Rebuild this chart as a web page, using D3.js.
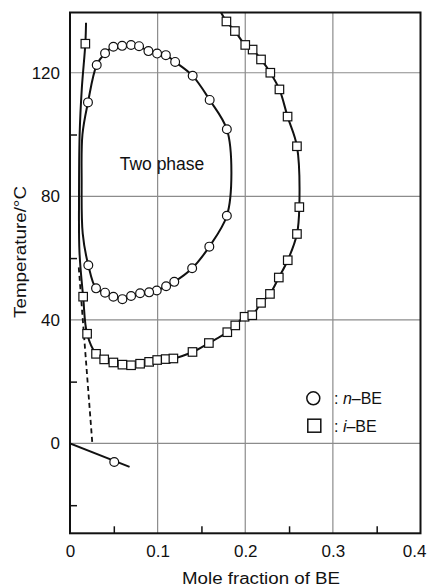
<!DOCTYPE html>
<html>
<head>
<meta charset="utf-8">
<script src="https://cdn.jsdelivr.net/npm/d3@7/dist/d3.min.js"></script>
<style>
  html, body { margin: 0; padding: 0; background: #fff; }
  svg { display: block; }
  text { font-family: "Liberation Sans", Arial, Helvetica, sans-serif; fill: #111; }
</style>
</head>
<body>
<svg id="chart" width="427" height="588"></svg>
<script>
// ---------- data ----------
const xTicks = [0, 0.1, 0.2, 0.3, 0.4];
const xTickLabels = ["0", "0.1", "0.2", "0.3", "0.4"];
const yTicks = [0, 40, 80, 120];
const yTickLabels = ["0", "40", "80", "120"];
const xMinorTicks = [0.05, 0.15, 0.25, 0.35];
const yMinorTicks = [-20, 20, 60, 100];

// n-BE measured points (circles)
const nBEPoints = [
  [0.0205, 110.4], [0.0305, 122.5], [0.040, 126.3], [0.0495, 128.4], [0.0595, 128.7],
  [0.0697, 129.0], [0.0788, 128.6], [0.0895, 127.0], [0.0994, 126.2], [0.1094, 125.7],
  [0.120, 123.5], [0.140, 119.0], [0.1594, 111.2], [0.179, 101.7],
  [0.179, 73.7], [0.159, 63.7], [0.1394, 56.7], [0.119, 52.3], [0.1097, 50.9],
  [0.099, 49.5], [0.0903, 48.9], [0.080, 48.6], [0.0697, 47.7], [0.0598, 46.7],
  [0.0495, 47.5], [0.040, 48.8], [0.0297, 50.2], [0.0209, 57.7]
];
// n-BE closed miscibility curve (through the circles)
const nBECurve = [
  [0.0205, 110.4], [0.0305, 122.5], [0.040, 126.3], [0.0495, 128.4], [0.0595, 128.7],
  [0.0697, 129.0], [0.0788, 128.6], [0.0895, 127.0], [0.0994, 126.2], [0.1094, 125.7],
  [0.120, 123.5], [0.140, 119.0], [0.1594, 111.2], [0.179, 101.7], [0.1842, 87.5],
  [0.179, 73.7], [0.159, 63.7], [0.1394, 56.7], [0.119, 52.3], [0.1097, 50.9],
  [0.099, 49.5], [0.0903, 48.9], [0.080, 48.6], [0.0697, 47.7], [0.0598, 46.7],
  [0.0495, 47.5], [0.040, 48.8], [0.0297, 50.2], [0.0209, 57.7],
  [0.0145, 68], [0.0133, 85], [0.0142, 100]
];
// n-BE freezing point line and point
const nBEFreezeLine = [[0, 0], [0.068, -7.6]];
const nBEFreezePoints = [[0.0505, -6.0]];

// i-BE measured points (squares)
const iBEPoints = [
  [0.0175, 129.4], [0.015, 47.5], [0.0195, 35.5], [0.0297, 29.0], [0.039, 27.2],
  [0.0495, 26.2], [0.0598, 25.5], [0.0697, 25.3], [0.080, 25.8], [0.0903, 26.4],
  [0.0995, 27.0], [0.1092, 27.3], [0.118, 27.5], [0.1398, 29.6], [0.1585, 32.5],
  [0.1795, 36.0], [0.1886, 38.2], [0.1992, 41.0], [0.208, 41.5], [0.218, 45.5],
  [0.2282, 48.4], [0.2383, 53.7], [0.2485, 59.3], [0.259, 67.8], [0.2617, 76.5],
  [0.259, 96.2], [0.2483, 105.8], [0.239, 114.6], [0.2286, 120.0], [0.218, 124.3],
  [0.2084, 127.5], [0.200, 129.0], [0.1882, 133.5], [0.1785, 136.6]
];
// i-BE curve (open at the top)
const iBECurve = [
  [0.0183, 136.2], [0.0175, 129.4], [0.0135, 115], [0.011, 100], [0.0103, 80], [0.0108, 62],
  [0.015, 47.5], [0.0195, 35.5], [0.0297, 29.0], [0.039, 27.2],
  [0.0495, 26.2], [0.0598, 25.5], [0.0697, 25.3], [0.080, 25.8], [0.0903, 26.4],
  [0.0995, 27.0], [0.1092, 27.3], [0.118, 27.5], [0.1398, 29.6], [0.1585, 32.5],
  [0.1795, 36.0], [0.1886, 38.2], [0.1992, 41.0], [0.208, 41.5], [0.218, 45.5],
  [0.2282, 48.4], [0.2383, 53.7], [0.2485, 59.3], [0.259, 67.8], [0.2617, 76.5],
  [0.259, 96.2], [0.2483, 105.8], [0.239, 114.6], [0.2286, 120.0], [0.218, 124.3],
  [0.2084, 127.5], [0.200, 129.0], [0.1882, 133.5], [0.1785, 136.6], [0.1705, 140.5]
];
// dashed line
const dashedLine = [[0.010, 57], [0.0255, 0]];

// ---------- layout ----------
const svg = d3.select("#chart");
const x = d3.scaleLinear().domain([0, 0.4]).range([70, 420.5]);
const y = d3.scaleLinear().domain([-29.1, 139.5]).range([533.3, 12.5]);
const [x0, x1] = x.range();
const [yb, yt] = y.range();

svg.append("defs").append("clipPath").attr("id", "plotClip")
  .append("rect").attr("x", x0).attr("y", yt).attr("width", x1 - x0).attr("height", yb - yt);

// gridlines
const grid = svg.append("g");
grid.selectAll("line.hg").data(yTicks).enter().append("line")
  .attr("x1", x0).attr("x2", x1).attr("y1", d => y(d)).attr("y2", d => y(d))
  .attr("stroke", "#8c8c8c").attr("stroke-width", 1.2);
grid.selectAll("line.vg").data(xTicks.slice(1, -1)).enter().append("line")
  .attr("y1", yt).attr("y2", yb).attr("x1", d => x(d)).attr("x2", d => x(d))
  .attr("stroke", "#8c8c8c").attr("stroke-width", 1.2);

// minor ticks (inward)
const minorY = svg.append("g").attr("transform", `translate(${x0},0)`)
  .call(d3.axisRight(y).tickValues(yMinorTicks).tickSize(7).tickFormat(""));
minorY.select(".domain").remove();
minorY.selectAll("line").attr("stroke", "#111").attr("stroke-width", 1.5);
const minorX = svg.append("g").attr("transform", `translate(0,${yb})`)
  .call(d3.axisTop(x).tickValues(xMinorTicks).tickSize(7).tickFormat(""));
minorX.select(".domain").remove();
minorX.selectAll("line").attr("stroke", "#111").attr("stroke-width", 1.5);

// tick labels
const yAx = svg.append("g").attr("transform", `translate(${x0},0)`)
  .call(d3.axisLeft(y).tickValues(yTicks).tickSize(0).tickPadding(10)
    .tickFormat((d, i) => yTickLabels[i]));
yAx.select(".domain").remove();
yAx.selectAll("text").attr("font-size", 17).style("font-family", '"Liberation Sans", Arial, sans-serif').attr("fill", "#111");

const xAx = svg.append("g").attr("transform", `translate(0,${yb})`)
  .call(d3.axisBottom(x).tickValues(xTicks).tickSize(0).tickPadding(12)
    .tickFormat((d, i) => xTickLabels[i]));
xAx.select(".domain").remove();
xAx.selectAll("text").attr("font-size", 17).style("font-family", '"Liberation Sans", Arial, sans-serif').attr("fill", "#111");
// keep the last label inside the page
xAx.selectAll("text").filter(d => d === 0.4).attr("text-anchor", "end").attr("x", 426 - x(0.4));

// frame
svg.append("rect").attr("x", x0).attr("y", yt).attr("width", x1 - x0).attr("height", yb - yt)
  .attr("fill", "none").attr("stroke", "#111").attr("stroke-width", 2);

// curves
const line = d3.line().x(d => x(d[0])).y(d => y(d[1]));
const plot = svg.append("g").attr("clip-path", "url(#plotClip)");

plot.append("path").datum(nBECurve)
  .attr("d", line.curve(d3.curveCatmullRomClosed.alpha(0.5)))
  .attr("fill", "none").attr("stroke", "#111").attr("stroke-width", 2);
plot.append("path").datum(iBECurve)
  .attr("d", line.curve(d3.curveCatmullRom.alpha(0.5)))
  .attr("fill", "none").attr("stroke", "#111").attr("stroke-width", 2);
plot.append("path").datum(nBEFreezeLine)
  .attr("d", line.curve(d3.curveLinear))
  .attr("fill", "none").attr("stroke", "#111").attr("stroke-width", 2);
plot.append("path").datum(dashedLine)
  .attr("d", line.curve(d3.curveLinear))
  .attr("fill", "none").attr("stroke", "#111").attr("stroke-width", 1.8)
  .attr("stroke-dasharray", "5,3.5");

// markers
const sq = 8.5;
plot.selectAll("rect.sq").data(iBEPoints).enter().append("rect")
  .attr("x", d => x(d[0]) - sq / 2).attr("y", d => y(d[1]) - sq / 2)
  .attr("width", sq).attr("height", sq)
  .attr("fill", "#fff").attr("stroke", "#111").attr("stroke-width", 1.2);
plot.selectAll("circle.nb").data(nBEPoints.concat(nBEFreezePoints)).enter().append("circle")
  .attr("cx", d => x(d[0])).attr("cy", d => y(d[1])).attr("r", 4.4)
  .attr("fill", "#fff").attr("stroke", "#111").attr("stroke-width", 1.2);

// label
svg.append("text").attr("x", 162).attr("y", 170).attr("text-anchor", "middle")
  .attr("font-size", 17.5).text("Two phase");

// legend
const lg = svg.append("g");
lg.append("circle").attr("cx", 313.3).attr("cy", 398.3).attr("r", 6.5)
  .attr("fill", "#fff").attr("stroke", "#111").attr("stroke-width", 1.5);
const t1 = lg.append("text").attr("x", 334).attr("y", 404).attr("font-size", 16);
t1.append("tspan").text(": ");
t1.append("tspan").attr("font-style", "italic").text("n");
t1.append("tspan").text("–BE");
lg.append("rect").attr("x", 307.8).attr("y", 419.2).attr("width", 13).attr("height", 13)
  .attr("fill", "#fff").attr("stroke", "#111").attr("stroke-width", 1.5);
const t2 = lg.append("text").attr("x", 334).attr("y", 431.7).attr("font-size", 16);
t2.append("tspan").text(": ");
t2.append("tspan").attr("font-style", "italic").text("i");
t2.append("tspan").text("–BE");

// axis titles
svg.append("text").attr("x", 261).attr("y", 584).attr("text-anchor", "middle")
  .attr("font-size", 16).attr("textLength", 158).attr("lengthAdjust", "spacingAndGlyphs")
  .text("Mole fraction of BE");
svg.append("text").attr("transform", "translate(26,252) rotate(-90)")
  .attr("text-anchor", "middle").attr("font-size", 16.5)
  .attr("textLength", 132).attr("lengthAdjust", "spacingAndGlyphs")
  .text("Temperature/°C");
</script>
</body>
</html>
